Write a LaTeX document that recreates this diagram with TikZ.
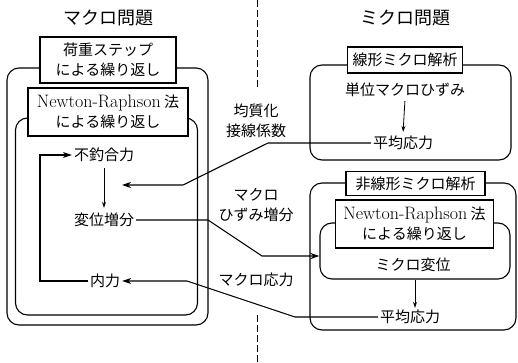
\documentclass[tikz,border=0pt]{standalone}
\usepackage{fontspec}
\newfontfamily\jp{Noto Sans CJK JP}
\usetikzlibrary{arrows.meta}
\newcommand{\nrtext}{{\rmfamily\fontsize{18}{20}\selectfont Newton-Raphson} 法\\による繰り返し}
\begin{document}
\begin{tikzpicture}[x=1pt,y=-1pt,
  txt/.style={font=\jp\fontsize{15}{20}\selectfont, align=center, inner sep=2pt},
  ttl/.style={font=\jp\fontsize{18}{20}\selectfont, inner sep=1pt},
  hbox/.style={txt, draw, fill=white, line width=1.1pt, inner sep=0pt},
  rbox/.style={draw, rounded corners=12pt, line width=1.1pt, inner sep=0pt},
  conn/.style={line width=1.1pt},
  arr/.style={conn, -{Stealth[length=9pt,width=6pt]}},
  varr/.style={line width=0.8pt, -{Stealth[length=6pt,width=4pt]}},
  dline/.style={line width=0.9pt, dash pattern=on 7pt off 3pt}]
\useasboundingbox (0,0) rectangle (518,363);
% titles
\node[ttl] (mtitle) at (108,18) {マクロ問題};
\node[ttl] (ntitle) at (405,18) {ミクロ問題};
% dashed divider
\coordinate (dtop) at (257,0);
\coordinate (dmid1) at (257,90);
\coordinate (dmid2) at (257,315);
\coordinate (dbot) at (257,363);
\draw[dline] (dtop) -- (dmid1);
\draw[dline] (dmid2) -- (dbot);
% left side
\node[rbox, minimum width=201, minimum height=257] (lout) at (107.5,196.5) {};
\node[rbox, minimum width=182, minimum height=197] (lin) at (106.5,216.5) {};
\node[hbox, minimum width=136, minimum height=46] (load) at (108,60) {荷重ステップ\\による繰り返し};
\node[hbox, minimum width=160, minimum height=48] (nrl) at (108,112) {\nrtext};
\node[txt] (fu) at (104,155) {不釣合力};
\node[txt] (dis) at (104,220) {変位増分};
\node[txt] (nai) at (105,281) {内力};
\coordinate (loopc) at (40,281);
\coordinate (tan) at (122,185);
\draw[arr] (nai.west) -- (loopc) |- (fu.west);
\draw[varr, shorten <=4pt, shorten >=3pt] (fu.south) -- (dis.north);
% right: linear
\node[rbox, minimum width=201, minimum height=95] (lbox) at (410.5,112.5) {};
\node[hbox, minimum width=115, minimum height=26] (lt) at (405,60) {線形ミクロ解析};
\node[txt] (unit) at (405,90) {単位マクロひずみ};
\node[txt] (avg1) at (403,143) {平均応力};
\draw[varr, shorten <=2pt, shorten >=2pt] (unit.south) -- (avg1.north);
% right: nonlinear
\node[rbox, minimum width=206, minimum height=147] (nbox) at (413,256.5) {};
\node[rbox, minimum width=190, minimum height=56] (ninner) at (415,251) {};
\node[hbox, minimum width=139, minimum height=24] (nt) at (415.5,183.5) {非線形ミクロ解析};
\node[hbox, minimum width=158, minimum height=48] (nrr) at (414.5,224) {\nrtext};
\node[txt] (mdisp) at (413,265) {ミクロ変位};
\node[txt] (avg2) at (410,317) {平均応力};
\draw[varr] (ninner.south) -- (ninner.south |- avg2.north);
% connectors
\coordinate (b1) at (268,143);
\coordinate (b2) at (183,185);
\draw[arr] (avg1.west) -- (b1) -- (b2) -- (tan);
\coordinate (c1) at (208,220);
\coordinate (c2) at (262,256);
\draw[arr] (dis.east) -- (c1) -- (c2) -- (ninner.west |- c2);
\coordinate (d1) at (295,317);
\coordinate (d2) at (187,281);
\draw[arr] (avg2.west) -- (d1) -- (d2) -- (nai.east);
% labels
\node[txt] (lab1) at (256,121) {均質化\\接線係数};
\node[txt] (lab2) at (256,205) {マクロ\\ひずみ増分};
\node[txt] (lab3) at (256,280) {マクロ応力};
\end{tikzpicture}
\end{document}
